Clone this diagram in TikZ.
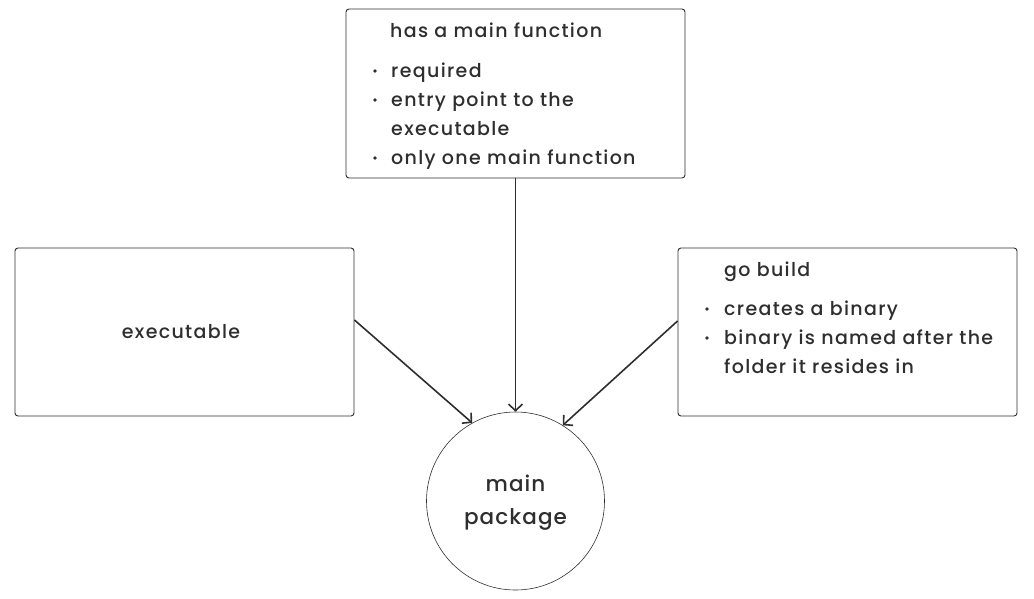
\documentclass[tikz,border=0pt]{standalone}
\usepackage{fontspec}
\setmainfont{Poppins}[UprightFont={* Medium},LetterSpace=7]
\newfontfamily\circfont{Poppins}[UprightFont={* Medium},LetterSpace=5]
\usetikzlibrary{arrows.meta,calc}
\definecolor{ink}{HTML}{2E2E2E}
\begin{document}
\begin{tikzpicture}[x=1pt,y=-1pt,
  box/.style={draw=ink,line width=0.9pt,rounded corners=3pt,minimum width=339pt,minimum height=169pt,inner sep=0pt},
  txt/.style={anchor=base west,inner sep=0pt,text=ink,font=\fontsize{19}{22}\selectfont},
  ctxt/.style={anchor=base,inner sep=0pt,text=ink,font=\fontsize{19}{22}\selectfont},
  bigtxt/.style={anchor=base,inner sep=0pt,text=ink,font=\circfont\fontsize{21.5}{26}\selectfont},
  dotb/.style={circle,fill=ink,inner sep=0pt,minimum size=3.6pt},
  conn/.style={draw=ink,line width=1.6pt,-{Straight Barb[length=6.5pt,width=14pt,line width=1.6pt]}}
]
\useasboundingbox (0,0) rectangle (1034,598);
% boxes
\node[box] (top) at (515.5,93.5) {};
\node[box,minimum height=168pt] (ex) at (184.5,332) {};
\node[box,minimum height=168pt] (gb) at (847.5,332) {};
\node[draw=ink,line width=0.6pt,circle,minimum size=178pt,inner sep=0pt] (mp) at (515.5,501) {};
% top box text
\node[txt] (t0) at (390,37) {has a main function};
\node[dotb] (b1) at (375,71) {};
\node[txt] (t1) at (391,77) {required};
\node[dotb] (b2) at (375,100) {};
\node[txt] (t2) at (391,106) {entry point to the};
\node[txt] (t3) at (391,135) {executable};
\node[dotb] (b3) at (375,158) {};
\node[txt] (t4) at (391,164) {only one main function};
% left
\node[ctxt] (e0) at (181,338) {executable};
% right
\node[txt] (g0) at (724,276) {go build};
\node[dotb] (c1) at (707,309) {};
\node[txt] (g1) at (724,315) {creates a binary};
\node[dotb] (c2) at (707,338) {};
\node[txt] (g2) at (724,344) {binary is named after the};
\node[txt] (g3) at (724,373) {folder it resides in};
% circle
\node[bigtxt] (m0) at (515.5,491) {main};
\node[bigtxt] (m1) at (515.5,524) {package};
% connectors
\coordinate (es) at ($(ex.east)+(0,-12)$);
\coordinate (gs) at ($(gb.west)+(0,-11)$);
\draw[conn] (es) -- (mp.119.5);
\draw[conn] (top.south) -- (mp.north);
\draw[conn] (gs) -- (mp.58);
\end{tikzpicture}
\end{document}
